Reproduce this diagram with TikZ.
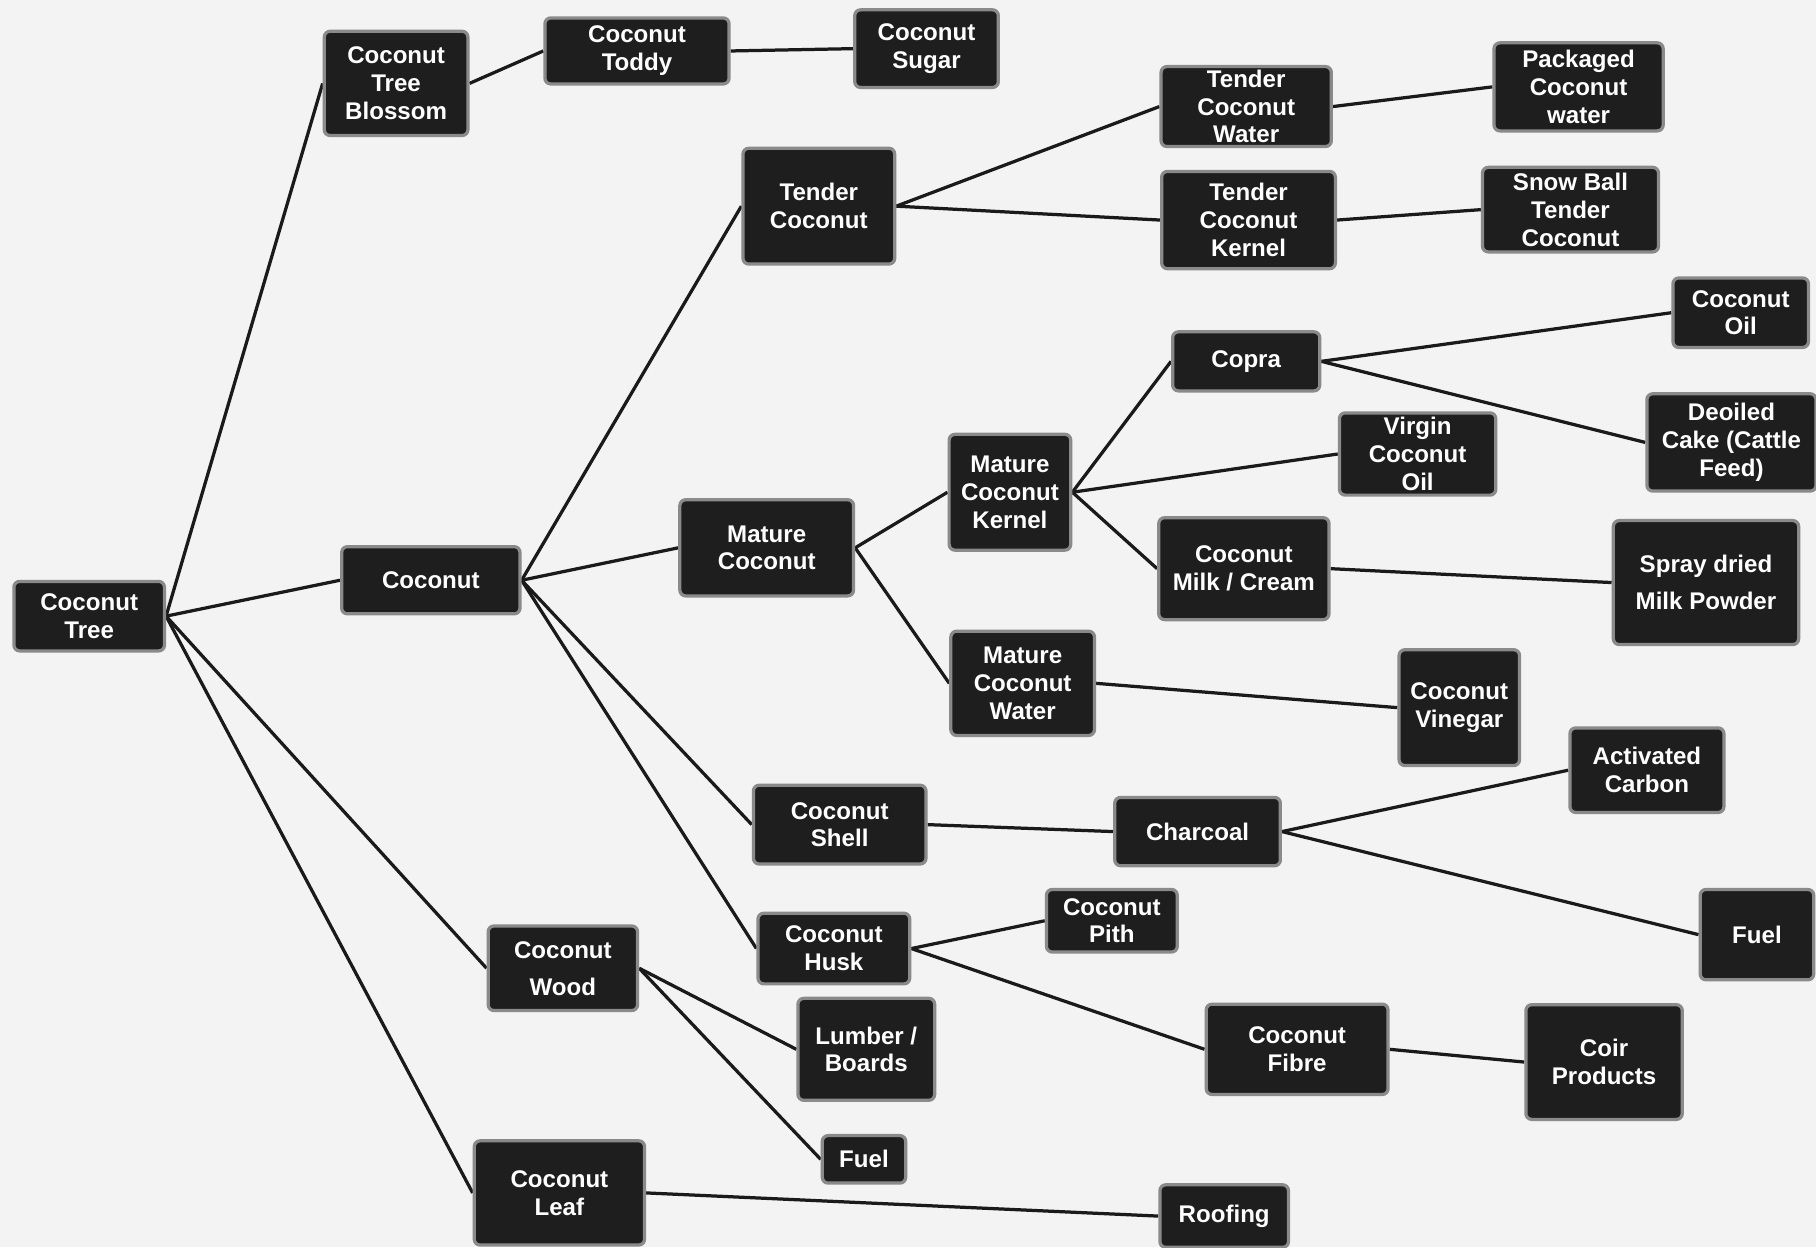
\documentclass[tikz,border=0pt]{standalone}
\usepackage{fontspec}
\setmainfont{Liberation Sans}
\usetikzlibrary{backgrounds}
\definecolor{boxfill}{HTML}{1E1E1E}
\definecolor{boxline}{HTML}{8A8A8A}
\definecolor{paper}{HTML}{F3F3F3}
\definecolor{wire}{HTML}{1A1A1A}
\tikzset{
  box/.style={draw=boxline, line width=1.4pt, fill=boxfill, rounded corners=2.5pt,
    text=white, font=\bfseries\fontsize{10.4}{12}\selectfont, align=center, inner sep=0pt},
  wireline/.style={draw=wire, line width=1.4pt},
}
\newcommand{\bx}[6]{\node[box, minimum width=#3pt, minimum height=#4pt] (#1) at (#2) {#5};}
\begin{document}
\begin{tikzpicture}[x=0.5pt,y=-0.5pt]
\useasboundingbox (0,0) rectangle (1568,1077);
\bx{tree}{77,532}{65}{30}{Coconut\\Tree}{}
\bx{blossom}{342,72}{62}{45}{Coconut\\Tree\\Blossom}{}
\bx{toddy}{550,44}{79.5}{28.5}{Coconut\\Toddy}{}
\bx{sugar}{800,42}{62}{33.5}{Coconut\\Sugar}{}
\bx{coconut}{372,501}{77}{29}{Coconut}{}
\bx{tender}{707,178}{65.5}{50}{Tender\\Coconut}{}
\bx{tcw}{1076,92}{73.5}{34.5}{Tender\\Coconut\\Water}{}
\bx{packaged}{1363,75}{73}{38}{Packaged\\Coconut\\water}{}
\bx{tck}{1078,190}{75}{42}{Tender\\Coconut\\Kernel}{}
\bx{snow}{1356,181}{76}{36.5}{Snow Ball\\Tender\\Coconut}{}
\bx{oil}{1503,270}{58.5}{30}{Coconut\\Oil}{}
\bx{copra}{1076,312}{63.5}{25.5}{Copra}{}
\bx{deoiled}{1495,382}{73}{42}{Deoiled\\Cake (Cattle\\Feed)}{}
\bx{virgin}{1224,392}{67.5}{35.5}{Virgin\\Coconut\\Oil}{}
\bx{mck}{872,425}{52.5}{50}{Mature\\Coconut\\Kernel}{}
\bx{mature}{662,473}{75}{41.5}{Mature\\Coconut}{}
\bx{milk}{1074,491}{73.5}{44}{Coconut\\Milk / Cream}{}
\bx{spray}{1473,503}{80}{53.5}{Spray dried\\[4pt]Milk Powder}{}
\bx{mcw}{883,590}{62}{45}{Mature\\Coconut\\Water}{}
\bx{vinegar}{1260,611}{52}{50}{Coconut\\Vinegar}{}
\bx{activated}{1422,665}{66.5}{36.5}{Activated\\Carbon}{}
\bx{shell}{725,712}{74.5}{34}{Coconut\\Shell}{}
\bx{charcoal}{1034,718}{71.5}{29.5}{Charcoal}{}
\bx{fuelr}{1517,807}{49}{39}{Fuel}{}
\bx{pith}{960,795}{56.5}{27}{Coconut\\Pith}{}
\bx{husk}{720,819}{65.5}{30.5}{Coconut\\Husk}{}
\bx{wood}{486,836}{64.5}{36.5}{Coconut\\[4pt]Wood}{}
\bx{lumber}{748,906}{59}{44}{Lumber /\\Boards}{}
\bx{fibre}{1120,906}{78.5}{39}{Coconut\\Fibre}{}
\bx{coir}{1385,917}{67.5}{49.5}{Coir\\Products}{}
\bx{fuelw}{746,1001}{36}{20.5}{Fuel}{}
\bx{leaf}{483,1030}{73.5}{45}{Coconut\\Leaf}{}
\bx{roofing}{1057,1050}{55.5}{27}{Roofing}{}
\begin{scope}[on background layer]
\fill[paper] (0,0) rectangle (1568,1077);
\foreach \a/\b in {tree/blossom, tree/coconut, tree/wood, tree/leaf,
  blossom/toddy, toddy/sugar,
  coconut/tender, coconut/mature, coconut/shell, coconut/husk,
  tender/tcw, tender/tck, tcw/packaged, tck/snow,
  mature/mck, mature/mcw, mck/copra, mck/virgin, mck/milk,
  copra/oil, copra/deoiled, milk/spray, mcw/vinegar,
  shell/charcoal, charcoal/activated, charcoal/fuelr,
  husk/pith, husk/fibre, fibre/coir,
  wood/lumber, wood/fuelw, leaf/roofing}
  {\draw[wireline] (\a.east) -- (\b.west);}
\end{scope}
\end{tikzpicture}
\end{document}
